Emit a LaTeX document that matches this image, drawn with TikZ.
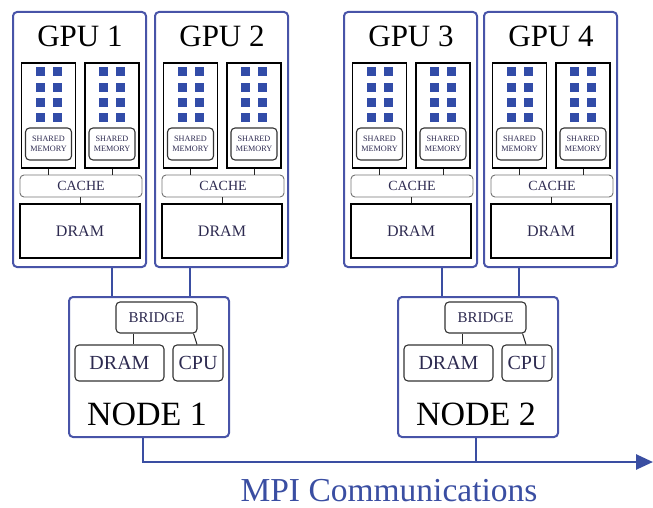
\documentclass[tikz,border=0pt]{standalone}
\usepackage{fontspec}
\setmainfont{Liberation Serif}
\usepackage{xcolor}
\usepackage{tikz}
\usetikzlibrary{positioning, arrows.meta, calc}
\definecolor{gpublue}{RGB}{72, 84, 168}
\definecolor{linkblue}{RGB}{58, 78, 162}
\definecolor{coreblue}{RGB}{50, 76, 168}
\definecolor{labelink}{RGB}{45, 42, 80}

\begin{document}
\begin{tikzpicture}[
  x=1pt, y=-1pt,
  gpu/.style={
    draw=gpublue, line width=2pt, rounded corners=4pt,
    minimum width=133pt, minimum height=255pt, inner sep=0pt
  },
  hostbox/.style={gpu, minimum width=160pt, minimum height=140pt},
  smbox/.style={draw, line width=1.3pt, minimum width=54pt, minimum height=105pt, inner sep=0pt},
  core/.style={fill=coreblue, minimum size=9pt, inner sep=0pt},
  shmem/.style={
    draw=black!80, line width=1.1pt, rounded corners=4pt, align=center,
    minimum width=46pt, minimum height=32pt, inner sep=0pt,
    font=\fontsize{8.2}{9.5}\selectfont, text=labelink
  },
  cachebox/.style={
    draw=black!55, line width=0.9pt, rounded corners=4pt,
    minimum width=122pt, minimum height=22pt, inner sep=0pt,
    font=\fontsize{14}{16}\selectfont, text=labelink
  },
  drambox/.style={
    draw, line width=1.3pt, minimum width=120pt, minimum height=54pt, inner sep=0pt,
    font=\fontsize{16}{18}\selectfont, text=labelink
  },
  part/.style={
    draw=black!80, line width=1.1pt, rounded corners=4pt, inner sep=0pt,
    font=\fontsize{20}{22}\selectfont, text=labelink
  },
  bridgebox/.style={part, minimum width=81pt, minimum height=31pt, font=\fontsize{15}{17}\selectfont},
  wire/.style={draw=black!85, line width=1pt},
  link/.style={draw=linkblue, line width=2.6pt},
  gpulabel/.style={inner sep=0pt, font=\fontsize{31}{34}\selectfont},
  hostlabel/.style={inner sep=0pt, font=\fontsize{34}{38}\selectfont},
  mpilabel/.style={inner sep=0pt, font=\fontsize{33.5}{36}\selectfont, text=linkblue}
]
\useasboundingbox (0,0) rectangle (653,508);

% GPU cards
\foreach \i/\L in {1/13, 2/155, 3/344, 4/484} {
  \node[gpu] (gpu\i) at (\L+66.5, 139.5) {};
  \node[gpulabel] (title\i) at (\L+67, 36) {GPU \i};
  \node[smbox] (sma\i) at (\L+35.5, 115.5) {};
  \node[smbox] (smb\i) at (\L+99, 115.5) {};
  \foreach \s in {a, b}
    \foreach \r in {0,...,3}
      \foreach \c/\dx in {l/-8.5, r/8.5}
        \node[core] (core\i\s\r\c) at ($(sm\s\i.north)+(\dx, 9.5+\r*15.3)$) {};
  \node[shmem] (shma\i) at (\L+35.5, 144) {SHARED\\MEMORY};
  \node[shmem] (shmb\i) at (\L+99, 144) {SHARED\\MEMORY};
  \node[cachebox] (cache\i) at (\L+68, 186) {CACHE};
  \node[drambox] (dram\i) at (\L+67, 231) {DRAM};
  \draw[wire] (sma\i.south) -- (sma\i.south |- cache\i.north);
  \draw[wire] (smb\i.south) -- (smb\i.south |- cache\i.north);
  \draw[wire] (cache\i.south -| dram\i.north) -- (dram\i.north);
}

% host nodes
\foreach \n/\N in {1/69, 2/398} {
  \node[hostbox] (node\n) at (\N+80, 367) {};
  \node[bridgebox] (bridge\n) at (\N+87.5, 317.5) {BRIDGE};
  \node[part, minimum width=89pt, minimum height=36pt] (hram\n) at (\N+50.5, 363) {DRAM};
  \node[part, minimum width=50pt, minimum height=36pt] (cpu\n) at (\N+129, 363) {CPU};
  \node[hostlabel] (name\n) at (\N+78, 414) {NODE \n};
  \draw[wire] (bridge\n.south -| \N+64, 0) -- (hram\n.north -| \N+64, 0);
  \draw[wire] ([xshift=-4pt]bridge\n.south east) -- ([xshift=-1pt]cpu\n.north);
}

% GPU to host links
\draw[link] ([xshift=32.5pt]gpu1.south) -- ([xshift=32.5pt]gpu1.south |- node1.north);
\draw[link] ([xshift=-31.5pt]gpu2.south) -- ([xshift=-31.5pt]gpu2.south |- node1.north);
\draw[link] ([xshift=31.5pt]gpu3.south) -- ([xshift=31.5pt]gpu3.south |- node2.north);
\draw[link] ([xshift=-31.5pt]gpu4.south) -- ([xshift=-31.5pt]gpu4.south |- node2.north);

% MPI bus
\coordinate (busend) at (653, 462);
\draw[link, -{Triangle[length=17pt, width=15pt]}] ([xshift=-6pt]node1.south) |- (busend);
\draw[link] ([xshift=-2pt]node2.south) -- ([xshift=-2pt]node2.south |- busend);
\node[mpilabel] (mpi) at (389, 491) {MPI Communications};
\end{tikzpicture}
\end{document}
